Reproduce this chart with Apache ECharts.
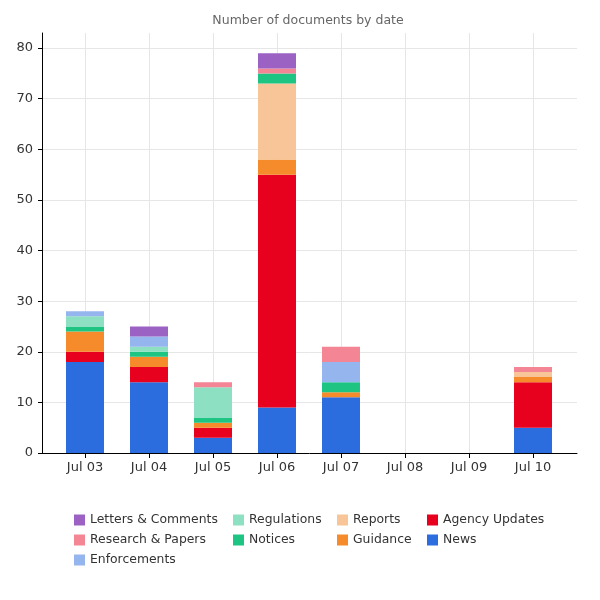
<!DOCTYPE html>
<html>
<head>
<meta charset="utf-8">
<script src="https://cdn.jsdelivr.net/npm/echarts@6/dist/echarts.min.js"></script>
<style>html,body{margin:0;padding:0;background:#fff}#c{width:600px;height:600px}</style>
</head>
<body>
<div id="c"></div>
<script>
const dates = ['Jul 03','Jul 04','Jul 05','Jul 06','Jul 07','Jul 08','Jul 09','Jul 10'];
const yTicks = [0,10,20,30,40,50,60,70,80];
const news          = [18,14,3, 9,11,0,0,5];
const agencyUpdates = [2, 3, 2,46, 0,0,0,9];
const guidance      = [4, 2, 1, 3, 1,0,0,1];
const reports       = [0, 0, 0,15, 0,0,0,1];
const notices       = [1, 1, 1, 2, 2,0,0,0];
const regulations   = [2, 1, 6, 0, 0,0,0,0];
const enforcements  = [1, 2, 0, 0, 4,0,0,0];
const research      = [0, 0, 1, 1, 3,0,0,1];
const letters       = [0, 2, 0, 3, 0,0,0,0];

const seriesDefs = [
  ['News', news, '#2b6cde'],
  ['Agency Updates', agencyUpdates, '#e8001f'],
  ['Guidance', guidance, '#f58b2a'],
  ['Reports', reports, '#f7c597'],
  ['Notices', notices, '#1dc482'],
  ['Regulations', regulations, '#8ee0c3'],
  ['Enforcements', enforcements, '#94b5ee'],
  ['Research & Papers', research, '#f48595'],
  ['Letters & Comments', letters, '#9b62c4']
];
const legendCols = [
  ['Letters & Comments','Research & Papers','Enforcements'],
  ['Regulations','Notices'],
  ['Reports','Guidance'],
  ['Agency Updates','News']
];
const legendX = [74, 233, 337, 427];

const FONT = 'DejaVu Sans';
const chart = echarts.init(document.getElementById('c'), null, {renderer:'canvas'});
const yMaxTop = 83;
const option = {
  animation: false,
  textStyle: {fontFamily: FONT},
  title: {
    text: 'Number of documents by date',
    left: 308, top: 14, textAlign: 'center', padding: 0,
    textStyle: {fontFamily: FONT, fontSize: 12.5, fontWeight: 'normal', color: '#666'}
  },
  legend: legendCols.map((col, i) => ({
    orient: 'vertical', left: legendX[i], top: 514, padding: 0,
    data: col, icon: 'rect', itemWidth: 11, itemHeight: 11, itemGap: 8,
    selectedMode: false,
    textStyle: {fontFamily: FONT, fontSize: 12.4, color: '#333'}
  })),
  grid: [
    {left: 42, right: 23, top: 33, bottom: 147},
    {left: 42, right: 23, top: 48, bottom: 147},
    {left: 85, right: 67, top: 33, bottom: 147}
  ],
  xAxis: [
    {gridIndex: 0, type: 'value', min: 0, max: 1,
     axisLine: {show: true, lineStyle: {color: '#000', width: 1}},
     axisTick: {show: false}, axisLabel: {show: false}, splitLine: {show: false}},
    {gridIndex: 1, type: 'value', min: 0, max: 1, show: false},
    {gridIndex: 2, type: 'category', data: dates, boundaryGap: false,
     axisLine: {show: false},
     axisTick: {show: true, length: 5, interval: 0, lineStyle: {color: '#000'}},
     axisLabel: {interval: 0, margin: 8, fontFamily: FONT, fontSize: 13, color: '#333'},
     splitLine: {show: true, interval: 0, lineStyle: {color: '#e6e6e6', width: 1}}}
  ],
  yAxis: [
    {gridIndex: 0, type: 'value', min: 0, max: yMaxTop,
     axisLine: {show: true, lineStyle: {color: '#000', width: 1}},
     axisTick: {show: false}, axisLabel: {show: false}, splitLine: {show: false}},
    {gridIndex: 1, type: 'value', min: yTicks[0], max: yTicks[yTicks.length-1], interval: 10,
     axisLine: {show: false},
     axisTick: {show: true, length: 4, lineStyle: {color: '#000'}},
     axisLabel: {margin: 9, fontFamily: FONT, fontSize: 13, color: '#333'},
     splitLine: {show: true, lineStyle: {color: '#e6e6e6', width: 1}}},
    {gridIndex: 2, type: 'value', min: 0, max: yMaxTop, show: false}
  ],
  series: seriesDefs.map(([name, data, color]) => ({
    name, type: 'bar', stack: 'total', data,
    xAxisIndex: 2, yAxisIndex: 2, barWidth: 38, clip: false,
    itemStyle: {color}
  }))
};
chart.setOption(option);
</script>
</body>
</html>
